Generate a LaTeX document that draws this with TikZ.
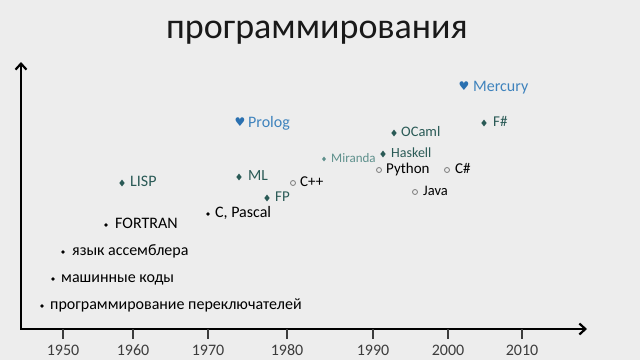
\documentclass[tikz,border=0pt]{standalone}
\usepackage{fontspec}
\setmainfont{Carlito}
\newfontfamily\symfont{DejaVu Sans}
\usetikzlibrary{arrows.meta,shapes.geometric}
\definecolor{bg}{HTML}{EDEDED}
\definecolor{tealc}{HTML}{2A5A56}
\definecolor{mirc}{HTML}{5E908C}
\definecolor{bluet}{HTML}{3F83BD}
\definecolor{blueh}{HTML}{2A70B0}
\definecolor{yearc}{HTML}{3C3C3C}
\definecolor{circc}{HTML}{7A7A7A}
\tikzset{
  lbl/.style={anchor=base west,inner sep=0pt,font=\fontsize{15}{17}\selectfont},
  cyr/.style={anchor=base west,inner sep=0pt,font=\fontsize{16}{18}\selectfont},
  dia/.style={diamond,fill=tealc,inner sep=0pt,minimum width=5.5pt,minimum height=7pt},
  smdia/.style={diamond,fill=mirc,inner sep=0pt,minimum width=4pt,minimum height=5pt},
  circ/.style={circle,draw=circc,line width=0.8pt,inner sep=0pt,minimum size=5pt},
  dotm/.style={circle,fill=black,inner sep=0pt,minimum size=3.8pt},
  heart/.style={inner sep=0pt,text=blueh,font=\symfont\fontsize{12}{12}\selectfont},
  axis/.style={line width=2.2pt,black},
  tick/.style={line width=1.6pt,yearc},
  year/.style={inner sep=0pt,text=yearc,font=\fontsize{16}{18}\selectfont}
}
\begin{document}
\begin{tikzpicture}[x=1pt,y=-1pt]
\fill[bg] (0,0) rectangle (640,360);
\useasboundingbox (0,0) rectangle (640,360);
\node[anchor=base,inner sep=0pt,text=black!90,font=\fontsize{36}{40}\selectfont] (title) at (317,38) {программирования};
% axes
\coordinate (top) at (21,62);
\coordinate (org) at (21,329);
\coordinate (right) at (587,329);
\draw[axis,{Straight Barb[length=6pt,width=11pt]}-{Straight Barb[length=6pt,width=11pt]}] (top) -- (org) -- (right);
% ticks and years
\foreach \x/\yr in {63/1950,133/1960,208/1970,287/1980,373/1990,448/2000,522/2010}{
  \draw[tick] (\x,329) -- (\x,339);
  \node[year] (y\yr) at (\x,350.5) {\yr};
}
% hearts
\node[heart] (prologm) at (240,122) {♥};
\node[lbl,text=bluet,font=\fontsize{16}{18}\selectfont] (prolog) at (248,127.5) {Prolog};
\node[heart] (mercurym) at (464,86) {♥};
\node[lbl,text=bluet,font=\fontsize{16}{18}\selectfont] (mercury) at (473,91.5) {Mercury};
% diamonds
\node[dia] (lispm) at (122,183) {};
\node[lbl,text=tealc,font=\fontsize{16}{18}\selectfont] (lisp) at (130,186.5) {LISP};
\node[dia] (mlm) at (239,177) {};
\node[lbl,text=tealc,font=\fontsize{15.5}{18}\selectfont] (ml) at (248,180.5) {ML};
\node[dia] (fpm) at (267,198) {};
\node[lbl,text=tealc,font=\fontsize{15}{17}\selectfont] (fp) at (275,201.5) {FP};
\node[dia] (ocamlm) at (394,133) {};
\node[lbl,text=tealc,font=\fontsize{14.5}{17}\selectfont] (ocaml) at (401,136.5) {OCaml};
\node[dia] (haskellm) at (383,154) {};
\node[lbl,text=tealc,font=\fontsize{14}{16}\selectfont] (haskell) at (391,157.5) {Haskell};
\node[smdia] (mirandam) at (324,159) {};
\node[lbl,text=mirc,font=\fontsize{13}{15}\selectfont] (miranda) at (331,162.5) {Miranda};
\node[dia] (fsm) at (484,123) {};
\node[lbl,text=tealc,font=\fontsize{15}{17}\selectfont] (fs) at (493,126.5) {F\#};
% circles
\node[circ] (cppm) at (293,183) {};
\node[lbl] (cpp) at (300,186.5) {C++};
\node[circ] (pythonm) at (379,170) {};
\node[lbl] (python) at (386,173.5) {Python};
\node[circ] (csm) at (447,170) {};
\node[lbl] (cs) at (455,173.5) {C\#};
\node[circ] (javam) at (415,192) {};
\node[lbl,font=\fontsize{14.5}{17}\selectfont] (java) at (423,195.5) {Java};
% dots
\node[dotm] (cpm) at (208,214) {};
\node[cyr] (cp) at (215,217.5) {C, Pascal};
\node[dotm] (fortm) at (106,225) {};
\node[cyr] (fort) at (115,228.5) {FORTRAN};
\node[dotm] (asmm) at (63,252) {};
\node[cyr] (asm) at (72,255.5) {язык ассемблера};
\node[dotm] (mcm) at (53,279) {};
\node[cyr] (mc) at (61,282.5) {машинные коды};
\node[dotm] (swm) at (42,306) {};
\node[cyr] (sw) at (50,309.5) {программирование переключателей};
\end{tikzpicture}
\end{document}
